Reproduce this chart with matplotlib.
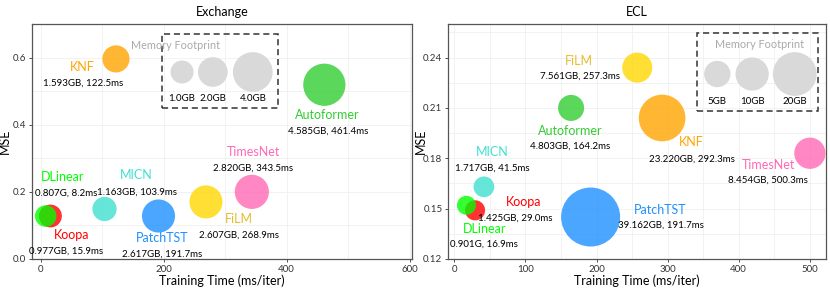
import matplotlib
matplotlib.use("Agg")
import matplotlib.pyplot as plt
from matplotlib.patches import Rectangle
from matplotlib.ticker import MultipleLocator, FormatStrFormatter

plt.rcParams['font.family'] = ['Lato', 'DejaVu Sans']

models = ["Koopa", "DLinear", "MICN", "PatchTST", "FiLM", "TimesNet", "Autoformer", "KNF"]
colors = {"Koopa": "red", "DLinear": "lime", "MICN": "turquoise", "PatchTST": "dodgerblue",
          "FiLM": "gold", "TimesNet": "hotpink", "Autoformer": "limegreen", "KNF": "orange"}
text_colors = {"FiLM": "#E5BD2F"}

# Exchange
exch_time = [15.9, 8.2, 103.9, 191.7, 268.9, 343.5, 461.4, 122.5]
exch_mse = [0.128, 0.128, 0.149, 0.128, 0.170, 0.200, 0.519, 0.596]
exch_mem = [0.977, 0.807, 1.163, 2.617, 2.607, 2.820, 4.585, 1.593]
exch_mem_lbl = ["0.977GB", "0.807G", "1.163GB", "2.617GB", "2.607GB", "2.820GB", "4.585GB", "1.593GB"]
exch_legend_mem = [1.0, 2.0, 4.0]
exch_legend_lbl = ["1.0GB", "2.0GB", "4.0GB"]

# ECL
ecl_time = [29.0, 16.9, 41.5, 191.7, 257.3, 500.3, 164.2, 292.3]
ecl_mse = [0.149, 0.152, 0.163, 0.145, 0.234, 0.183, 0.210, 0.204]
ecl_mem = [1.425, 0.901, 1.717, 39.162, 7.561, 8.454, 4.803, 23.220]
ecl_mem_lbl = ["1.425GB", "0.901G", "1.717GB", "39.162GB", "7.561GB", "8.454GB", "4.803GB", "23.220GB"]
ecl_legend_mem = [5, 10, 20]
ecl_legend_lbl = ["5GB", "10GB", "20GB"]

# label positions (name, detail) in data coords
exch_pos = {"KNF": ((67, 0.573), (69, 0.524)),
            "Autoformer": ((467, 0.430), (467, 0.382)),
            "TimesNet": ((346, 0.320), (346, 0.270)),
            "FiLM": ((323, 0.118), (323, 0.072)),
            "PatchTST": ((197, 0.062), (197, 0.015)),
            "MICN": ((156, 0.250), (156, 0.200)),
            "DLinear": ((36, 0.243), (42, 0.196)),
            "Koopa": ((50, 0.071), (42, 0.024))}
ecl_pos = {"FiLM": ((175, 0.2380), (177, 0.2290)),
           "Autoformer": ((163, 0.1960), (163, 0.1870)),
           "KNF": ((334, 0.1896), (334, 0.1797)),
           "TimesNet": ((442, 0.1760), (441, 0.1667)),
           "MICN": ((53, 0.1836), (54, 0.1740)),
           "Koopa": ((98, 0.1540), (86, 0.1445)),
           "DLinear": ((42, 0.1380), (41, 0.1290)),
           "PatchTST": ((290, 0.1490), (290, 0.1400))}

def size_exch(m):
    return (350 * m + 180) * 0.5184

def size_ecl(m):
    return (81.5 * m + 288) * 0.5184

fig = plt.figure(figsize=(8.3, 2.88), dpi=100)
ax1 = fig.add_axes([0.0386, 0.1007, 0.4578, 0.816])
ax2 = fig.add_axes([0.5398, 0.1007, 0.4554, 0.816])

def draw(ax, times, mses, mems, lbls, pos, sizef, title, xlim, ylim, xmaj, xmin, ymaj, ymin,
         leg_mem, leg_lbl, leg_x, leg_y, leg_lbl_y, leg_title, box):
    for i, m in enumerate(models):
        ax.scatter([times[i]], [mses[i]], s=sizef(mems[i]), color=colors[m], alpha=0.8,
                   edgecolors='none', zorder=3)
        (nx, ny), (dx, dy) = pos[m]
        ax.text(nx, ny, m, color=text_colors.get(m, colors[m]), fontsize=9, ha='center', va='center', zorder=4)
        ax.text(dx, dy, f"{lbls[i]}, {times[i]:.1f}ms", color='black', fontsize=7,
                ha='center', va='center', zorder=4)
    # memory legend
    ax.scatter(leg_x, [leg_y] * len(leg_x), s=[sizef(v) for v in leg_mem], color='#D9D9D9',
               edgecolors='none', zorder=3)
    for x, l in zip(leg_x, leg_lbl):
        ax.text(x, leg_lbl_y, l, fontsize=7, ha='center', va='center', color='black', zorder=4)
    ax.text(leg_title[0], leg_title[1], "Memory Footprint", fontsize=7.8, color='#AAAAAA',
            ha='center', va='center', zorder=4)
    x0, x1, y0, y1 = box
    ax.add_patch(Rectangle((x0, y0), x1 - x0, y1 - y0, fill=False, ls=(0, (4, 2.5)), lw=1.1,
                           edgecolor='#333333', zorder=2))
    ax.set_xlim(*xlim)
    ax.set_ylim(*ylim)
    ax.xaxis.set_major_locator(MultipleLocator(xmaj))
    ax.xaxis.set_minor_locator(MultipleLocator(xmin))
    ax.yaxis.set_major_locator(MultipleLocator(ymaj))
    ax.yaxis.set_minor_locator(MultipleLocator(ymin))
    ax.grid(True, which='both', color='#F0F0F0', lw=0.6, zorder=0)
    ax.set_axisbelow(True)
    ax.tick_params(which='major', labelsize=7, length=2.5, width=0.6, pad=1.5, colors='#333333')
    ax.tick_params(which='minor', length=0)
    for sp in ax.spines.values():
        sp.set_color('#555555')
        sp.set_linewidth(0.9)
    ax.set_title(title, fontsize=9, pad=6)
    ax.set_xlabel("Training Time (ms/iter)", fontsize=9, labelpad=1)
    ax.set_ylabel("MSE", fontsize=9)
    ax.yaxis.set_label_coords(-0.057, 0.5)

draw(ax1, exch_time, exch_mse, exch_mem, exch_mem_lbl, exch_pos, size_exch, "Exchange",
     (-14, 604), (0, 0.7), 200, 100, 0.2, 0.1,
     exch_legend_mem, exch_legend_lbl, [230, 280, 345], 0.557, 0.477, (220, 0.637),
     (198, 386, 0.451, 0.669))
ax1.yaxis.set_major_formatter(FormatStrFormatter('%.1f'))

draw(ax2, ecl_time, ecl_mse, ecl_mem, ecl_mem_lbl, ecl_pos, size_ecl, "ECL",
     (-9, 523), (0.12, 0.26), 100, 50, 0.03, 0.015,
     ecl_legend_mem, ecl_legend_lbl, [370, 419, 479], 0.2302, 0.2138, (430, 0.2478),
     (342, 512, 0.2083, 0.2546))
ax2.yaxis.set_major_formatter(FormatStrFormatter('%.2f'))

fig.savefig("out.png", dpi=100)
